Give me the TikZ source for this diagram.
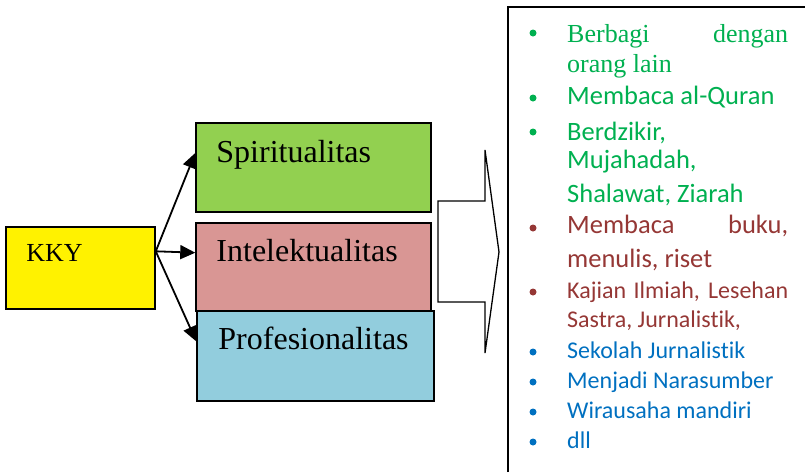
\documentclass[tikz,border=0pt]{standalone}
\usepackage{fontspec}
\setmainfont{Liberation Serif}
\newfontfamily\calibfont[Ligatures={NoCommon,NoRare}]{Carlito}
\usetikzlibrary{arrows.meta,positioning,calc}
\definecolor{spirgreen}{RGB}{146,208,80}
\definecolor{intelrose}{RGB}{217,150,148}
\definecolor{profblue}{RGB}{146,205,221}
\definecolor{listgreen}{RGB}{0,176,80}
\definecolor{listred}{RGB}{149,55,53}
\definecolor{listblue}{RGB}{0,112,192}
\newlength{\listw}\setlength{\listw}{221pt}
\newcommand{\tinogap}{t\kern0pt i}
\tikzset{
  areabox/.style={draw,line width=1.5pt,inner sep=0pt},
  boxlabel/.style={anchor=base west,inner sep=0pt,font=\fontsize{32}{36}\selectfont},
  branch/.style={line width=1.8pt,-{Triangle[length=15pt,width=14pt]}},
  listline/.style={anchor=base west,inner sep=0pt},
  bigfont/.style={font=\calibfont\fontsize{26.5}{30}\selectfont},
  smallfont/.style={font=\calibfont\fontsize{24}{28}\selectfont}
}
\begin{document}
\begin{tikzpicture}[x=1pt,y=-1pt]
  \useasboundingbox (0,0) rectangle (805,472);
  % left side: KKY and the three areas
  \node[areabox,fill=yellow,minimum width=149pt,minimum height=82pt] (kky) at (80.5,268) {};
  \node[boxlabel,font=\fontsize{26}{30}\selectfont] (kky-t) at ($(kky.north west)+(21,35)$) {KKY};
  \node[areabox,fill=spirgreen,minimum width=235pt,minimum height=89pt] (spir) at (313.5,167.5) {};
  \node[areabox,fill=intelrose,minimum width=235pt,minimum height=88pt] (intel) at (313.5,267) {};
  \node[areabox,fill=profblue,minimum width=237pt,minimum height=90pt] (prof) at (315.5,356) {};
  \node[boxlabel] (spir-t) at ($(spir.north west)+(21,40)$) {Spiritualitas};
  \node[boxlabel] (intel-t) at ($(intel.north west)+(21,39)$) {Intelektualitas};
  \node[boxlabel] (prof-t) at ($(prof.north west)+(22,39)$) {Profesionalitas};
  \coordinate (split) at ($(kky.north east)!0.3!(kky.south east)$);
  \foreach \n in {spir,intel,prof}
    \draw[branch] (split) -- ($(\n.north west)!0.34!(\n.south west)$);
  % block arrow
  \draw[line width=1.3pt,fill=white] (438,201) -- (485,201) -- (485,150) -- (499,252)
    -- (485,353) -- (485,302) -- (438,302) -- cycle;
  % list frame (runs off the page)
  \draw[line width=2pt] (508,472) -- (508,7) -- (805,7);
  % bullets
  \foreach \y/\c in {33/listgreen,98/listgreen,132/listgreen,228/listred,292/listred,
    352/listblue,382/listblue,412/listblue,442/listblue}
    \fill[\c] (533,\y) circle (3.5pt);
  % list texts
  \node[listline,text=listgreen,font=\fontsize{26}{30}\selectfont] (l1) at (567,42) {\makebox[\listw][s]{Berbagi dengan}};
  \node[listline,text=listgreen,font=\fontsize{26}{30}\selectfont] (l2) at (567,72) {orang lain};
  \node[listline,bigfont,text=listgreen] (l3) at (567,104) {Membaca al-Quran};
  \node[listline,bigfont,text=listgreen] (l4) at (567,140) {Berdzikir,};
  \node[listline,bigfont,text=listgreen] (l5) at (567,168) {Mujahadah,};
  \node[listline,bigfont,text=listgreen] (l6) at (567,202) {Shalawat, Ziarah};
  \node[listline,bigfont,text=listred] (l7) at (567,233) {\makebox[\listw][s]{Membaca buku,}};
  \node[listline,bigfont,text=listred] (l8) at (567,267) {menulis, riset};
  \node[listline,smallfont,text=listred] (l9) at (567,298) {\makebox[\listw][s]{Kajian Ilmiah, Lesehan}};
  \node[listline,smallfont,text=listred] (l10) at (567,327) {Sastra, Jurnalis\tinogap k,};
  \node[listline,smallfont,text=listblue] (l11) at (567,358) {Sekolah Jurnalis\tinogap k};
  \node[listline,smallfont,text=listblue] (l12) at (567,388) {Menjadi Narasumber};
  \node[listline,smallfont,text=listblue] (l13) at (567,418) {Wirausaha mandiri};
  \node[listline,smallfont,text=listblue] (l14) at (567,448) {dll};
\end{tikzpicture}
\end{document}
